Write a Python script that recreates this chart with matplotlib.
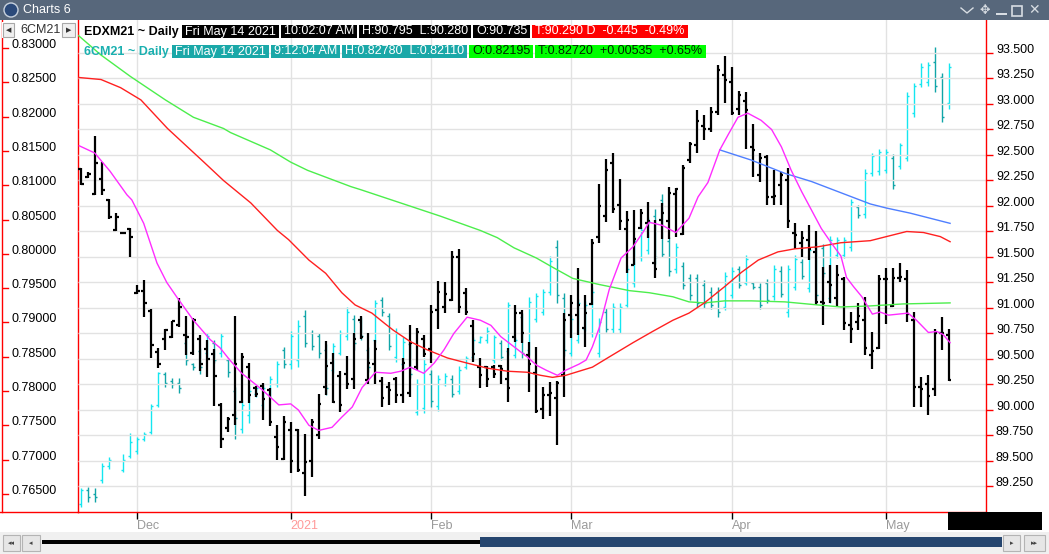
import numpy as np
import matplotlib
matplotlib.use("Agg")
import matplotlib.pyplot as plt
from matplotlib.patches import Rectangle, Circle
from matplotlib.lines import Line2D
from matplotlib.transforms import blended_transform_factory

plt.rcParams["font.family"] = ["Liberation Sans", "DejaVu Sans"]

W, H = 1049, 554

# ---------------- data ----------------
# x axis: one slot per trading day, month boundaries
month_pos = [8, 30, 50, 70, 93, 115]
month_labels = ["Dec", "2021", "Feb", "Mar", "Apr", "May"]
month_tick_colors = ["#9a9a9a", "red", "#9a9a9a", "red", "#9a9a9a", "#9a9a9a"]
month_label_colors = ["#9a9a9a", "#ff9a9a", "#9a9a9a", "#9a9a9a", "#9a9a9a", "#9a9a9a"]

left_ticks = [0.765, 0.770, 0.775, 0.780, 0.785, 0.790, 0.795, 0.800, 0.805,
              0.810, 0.815, 0.820, 0.825, 0.830]
right_ticks = [89.25, 89.50, 89.75, 90.00, 90.25, 90.50, 90.75, 91.00, 91.25,
               91.50, 91.75, 92.00, 92.25, 92.50, 92.75, 93.00, 93.25, 93.50]

# EDXM21 daily bars (right axis)
edx_open = [92.36, 92.28, 92.12, 92.26, 92.06, 91.76, 91.74, 91.77, 91.15, 91.17,
            90.97, 90.57, 90.70, 90.72, 90.83, 90.74, 90.56, 90.70, 90.60, 90.55,
            90.05, 89.82, 89.95, 90.08, 90.42, 90.22, 90.24, 90.20, 89.74, 89.52,
            89.80, 89.80, 89.38, 89.50, 89.75, 90.23, 90.46, 90.33, 90.35, 90.30,
            90.88, 90.29, 90.45, 90.28, 90.23, 90.30, 90.15, 90.17, 90.42, 90.70,
            90.60, 90.98, 91.01, 91.08, 91.50, 91.15, 90.82, 90.42, 90.42, 90.42,
            90.43, 90.30, 90.72, 90.95, 90.54, 90.36, 90.01, 90.15, 90.12, 90.34,
            90.93, 90.93, 90.80, 91.04, 91.70, 91.90, 92.42, 92.01, 91.77, 91.42,
            91.78, 91.83, 91.44, 91.86, 91.85, 92.12, 91.73, 92.45, 92.60, 92.78,
            92.75, 92.92, 93.28, 93.22, 92.95, 93.03, 92.58, 92.30, 92.48, 92.09,
            92.21, 92.25, 91.74, 91.64, 91.67, 91.55, 91.06, 91.25, 91.10, 91.28,
            90.83, 90.86, 90.88, 90.54, 90.61, 91.28, 91.02, 91.29, 91.28, 90.88,
            90.23, 90.25, 90.21, 90.75, 90.735]
edx_high = [92.37, 92.33, 92.69, 92.43, 92.07, 91.93, 91.745, 91.78, 91.23, 91.27,
            90.99, 90.61, 90.79, 90.87, 91.10, 90.92, 90.90, 90.74, 90.69, 90.60,
            90.07, 89.93, 90.92, 90.56, 90.46, 90.24, 90.26, 90.22, 89.85, 89.94,
            89.88, 89.81, 89.76, 89.91, 90.16, 90.68, 90.56, 90.38, 90.53, 90.75,
            90.92, 90.75, 90.69, 90.32, 90.27, 90.32, 90.51, 90.83, 90.80, 90.74,
            91.03, 91.26, 91.25, 91.56, 91.58, 91.20, 90.88, 90.51, 90.43, 90.44,
            90.44, 90.61, 91.03, 90.98, 90.67, 90.62, 90.23, 90.27, 90.28, 90.95,
            91.13, 91.39, 91.13, 91.68, 92.22, 92.46, 92.52, 92.26, 91.95, 91.96,
            91.97, 92.04, 91.86, 92.03, 92.19, 92.18, 92.40, 92.63, 92.94, 92.89,
            92.97, 93.38, 93.47, 93.36, 93.13, 93.12, 92.80, 92.52, 92.50, 92.35,
            92.33, 92.37, 91.83, 91.75, 91.81, 91.75, 91.40, 91.42, 91.42, 91.30,
            90.96, 91.05, 91.11, 90.76, 91.32, 91.39, 91.39, 91.44, 91.37, 90.96,
            90.32, 90.34, 90.79, 90.91, 90.795]
edx_low = [92.21, 92.27, 92.11, 92.11, 91.87, 91.75, 91.735, 91.50, 91.14, 90.91,
           90.51, 90.41, 90.59, 90.71, 90.81, 90.54, 90.54, 90.38, 90.32, 90.04,
           89.63, 89.78, 89.85, 90.07, 90.07, 90.13, 89.90, 89.84, 89.51, 89.51,
           89.38, 89.39, 89.16, 89.34, 89.72, 90.15, 90.07, 89.98, 90.21, 90.21,
           90.70, 90.25, 90.25, 90.03, 90.05, 90.07, 90.07, 90.13, 90.39, 90.52,
           90.46, 90.79, 90.95, 91.07, 90.95, 90.93, 90.47, 90.22, 90.23, 90.31,
           90.25, 90.08, 90.67, 90.66, 90.18, 89.97, 89.91, 89.94, 89.66, 90.13,
           90.71, 90.74, 90.62, 91.03, 91.64, 91.84, 91.93, 91.76, 91.34, 91.42,
           91.77, 91.69, 91.29, 91.68, 91.68, 91.70, 91.72, 92.42, 92.52, 92.65,
           92.73, 92.89, 93.01, 92.89, 92.89, 92.56, 92.28, 92.24, 92.01, 92.01,
           92.01, 91.78, 91.58, 91.50, 91.47, 91.03, 90.83, 91.05, 91.01, 90.78,
           90.66, 90.78, 90.54, 90.40, 90.60, 90.84, 91.01, 91.25, 90.86, 90.03,
           90.03, 89.95, 90.14, 90.59, 90.28]
edx_close = [92.22, 92.31, 92.42, 92.16, 91.89, 91.89, 91.74, 91.70, 91.17, 91.05,
             90.64, 90.45, 90.78, 90.87, 91.01, 90.72, 90.88, 90.45, 90.50, 90.33,
             89.72, 89.91, 90.45, 90.52, 90.15, 90.16, 90.11, 89.88, 89.64, 89.88,
             89.50, 89.41, 89.49, 89.88, 90.06, 90.43, 90.08, 90.05, 90.25, 90.70,
             90.72, 90.46, 90.60, 90.12, 90.20, 90.15, 90.46, 90.66, 90.76, 90.55,
             90.96, 91.16, 91.14, 91.50, 91.01, 90.96, 90.55, 90.34, 90.30, 90.35,
             90.40, 90.22, 90.95, 90.75, 90.45, 89.99, 90.15, 90.17, 90.26, 90.88,
             91.05, 91.03, 90.95, 91.64, 92.00, 92.35, 91.97, 91.85, 91.86, 91.68,
             91.93, 91.85, 91.38, 91.93, 92.13, 92.17, 92.37, 92.61, 92.83, 92.75,
             92.92, 93.33, 93.24, 92.91, 93.09, 92.94, 92.55, 92.47, 92.09, 92.10,
             92.30, 91.85, 91.72, 91.69, 91.58, 91.06, 91.05, 91.23, 91.32, 90.85,
             90.79, 90.92, 90.61, 90.58, 91.28, 91.28, 91.29, 91.30, 90.94, 90.23,
             90.21, 90.14, 90.75, 90.75, 90.29]

# 6CM21 daily bars (left axis), no bar on Thanksgiving
nan = float("nan")
cad_open = [.7636, .7655, .7650, .7670, .7690, nan, .7685, .7705, .7712, .7730,
            .7740, .7780, .7825, .7815, .7812, .7870, .7840, .7858, .7855, .7870,
            .7855, .7845, .7800, .7745, .7765, .7795, .7780, .7795, .7810, .7860,
            .7840, .7845, .7910, .7885, .7880, .7860, .7830, .7855, .7880, .7905,
            .7900, .7860, .7875, .7932, .7910, .7850, .7840, .7868, .7770, .7775,
            .7825, .7778, .7810, .7818, .7800, .7835, .7850, .7872, .7874, .7845,
            .7870, .7858, .7852, .7908, .7860, .7905, .7915, .7945, .8010, .7935,
            .7855, .7875, .7890, .7885, .7855, .7915, .7890, .7890, .7925, .7958,
            .7995, .8005, .8055, .8078, .8018, .7978, .7982, .7965, .7965, .7955,
            .7945, .7945, .7922, .7940, .7978, .7958, .7957, .7952, .7958, .7938,
            .7975, .7915, .7952, .7988, .7950, .8010, .8008, .7935, .7998, .7998,
            .8010, .8068, .8058, .8118, .8120, .8122, .8140, .8128, .8140, .8205,
            .8248, .8250, .8280, .8258, .82195]
cad_high = [.7659, .7660, .7659, .7695, .7704, nan, .7708, .7739, .7733, .7740,
            .7781, .7828, .7828, .7819, .7819, .7882, .7841, .7863, .7885, .7874,
            .7885, .7848, .7806, .7787, .7807, .7809, .7810, .7822, .7844, .7864,
            .7887, .7903, .7918, .7889, .7885, .7868, .7870, .7889, .7922, .7911,
            .7908, .7864, .7933, .7937, .7914, .7892, .7879, .7874, .7817, .7848,
            .7831, .7823, .7826, .7823, .7836, .7851, .7879, .7880, .7893, .7882,
            .7875, .7930, .7879, .7914, .7937, .7943, .7949, .7997, .8020, .7943,
            .7911, .7934, .7931, .7952, .7906, .7921, .7928, .7928, .7984, .8024,
            .8039, .8054, .8065, .8087, .8024, .8016, .7988, .7971, .7971, .7962,
            .7952, .7952, .7973, .7981, .7982, .7998, .7959, .7957, .7963, .7984,
            .7982, .7984, .7998, .7992, .8010, .8017, .8014, .8026, .8024, .8024,
            .8080, .8071, .8124, .8147, .8153, .8153, .8145, .8162, .8236, .8249,
            .8278, .8280, .8301, .8264, .8278]
cad_low = [.7631, .7638, .7638, .7666, .7686, nan, .7682, .7702, .7708, .7727,
           .7737, .7777, .7806, .7804, .7797, .7838, .7831, .7825, .7850, .7841,
           .7850, .7820, .7730, .7739, .7753, .7791, .7774, .7791, .7806, .7834,
           .7832, .7835, .7864, .7860, .7848, .7794, .7826, .7852, .7874, .7860,
           .7874, .7828, .7871, .7909, .7860, .7842, .7834, .7819, .7765, .7768,
           .7777, .7771, .7807, .7791, .7796, .7832, .7845, .7870, .7870, .7841,
           .7845, .7853, .7848, .7848, .7853, .7901, .7911, .7940, .7928, .7851,
           .7851, .7870, .7887, .7879, .7850, .7886, .7885, .7885, .7922, .7952,
           .7990, .8000, .7985, .7995, .7968, .7972, .7949, .7933, .7922, .7921,
           .7920, .7908, .7918, .7936, .7950, .7954, .7949, .7920, .7928, .7933,
           .7937, .7908, .7947, .7963, .7944, .7933, .7966, .7928, .7994, .7994,
           .8004, .8052, .8052, .8113, .8115, .8118, .8094, .8124, .8135, .8199,
           .8243, .8245, .8236, .8192, .8211]
cad_close = [.7655, .7645, .7645, .7690, .7700, nan, .7700, .7725, .7730, .7738,
             .7778, .7826, .7812, .7810, .7805, .7845, .7835, .7835, .7880, .7845,
             .7880, .7828, .7760, .7780, .7800, .7805, .7805, .7818, .7840, .7840,
             .7880, .7895, .7870, .7865, .7855, .7805, .7865, .7885, .7915, .7870,
             .7880, .7835, .7928, .7915, .7865, .7885, .7872, .7825, .7810, .7840,
             .7785, .7818, .7822, .7795, .7830, .7848, .7875, .7878, .7888, .7878,
             .7850, .7925, .7875, .7855, .7930, .7938, .7945, .7990, .7940, .7860,
             .7905, .7928, .7925, .7945, .7900, .7890, .7922, .7922, .7978, .8018,
             .8035, .8048, .7995, .8000, .7975, .8010, .7955, .7940, .7928, .7928,
             .7925, .7915, .7968, .7975, .7955, .7992, .7951, .7925, .7932, .7978,
             .7942, .7978, .7992, .7968, .8005, .7940, .7972, .8020, .8020, .8020,
             .8075, .8056, .8118, .8142, .8148, .8148, .8100, .8158, .8230, .8244,
             .8272, .8275, .8245, .8200, .8272]

# moving averages of EDXM21
ma_mag_x = [-0.2, 2.0, 4.2, 6.6, 7.3, 9.0, 10.9, 12.3, 13.7, 16.1, 18.5, 19.9, 21.3, 23.0,
            25.9, 28.3, 30.0, 31.1, 32.6, 34.0, 35.9, 37.3, 38.8, 40.2, 42.1, 44.3, 45.7,
            47.1, 49.0, 50.5, 51.9, 53.3, 55.2, 57.1, 58.6, 60.0, 61.9, 63.8, 65.1, 66.5,
            68.1, 69.3, 71.2, 72.2, 73.1, 74.1, 75.5, 77.2, 78.9, 80.3, 81.2, 83.1, 85.0,
            86.9, 88.2, 89.6, 91.3, 92.5, 93.9, 95.3, 97.2, 98.7, 100.1, 101.5, 103.0,
            104.4, 105.8, 107.2, 108.6, 109.4, 110.4, 111.6, 113.1, 114.2, 115.4, 118.2,
            119.4, 121.1, 122.3, 123.2, 124.2]
ma_mag_y = [92.59, 92.52, 92.34, 92.11, 92.06, 91.83, 91.44, 91.25, 91.11, 90.88, 90.69,
            90.61, 90.49, 90.36, 90.20, 90.05, 90.06, 90.00, 89.85, 89.80, 89.83, 89.93,
            90.03, 90.22, 90.37, 90.36, 90.38, 90.42, 90.36, 90.46, 90.59, 90.75, 90.91,
            90.88, 90.83, 90.72, 90.62, 90.52, 90.44, 90.39, 90.34, 90.39, 90.45, 90.49,
            90.62, 90.81, 91.18, 91.49, 91.60, 91.74, 91.84, 91.81, 91.74, 91.88, 92.09,
            92.23, 92.55, 92.70, 92.87, 92.91, 92.84, 92.75, 92.58, 92.35, 92.14, 91.96,
            91.78, 91.64, 91.51, 91.30, 91.21, 91.11, 90.94, 90.96, 90.93, 90.95, 90.88,
            90.76, 90.77, 90.74, 90.66]
ma_red_x = [-0.3, 2.9, 5.7, 8.6, 12.4, 17.6, 20.4, 24.3, 28.1, 29.7, 32.6, 35.0, 37.3,
            39.2, 41.6, 43.4, 44.7, 47.1, 49.5, 52.4, 55.2, 58.1, 61.0, 63.8, 65.7, 67.4,
            69.3, 73.1, 75.5, 78.9, 81.7, 84.6, 86.9, 89.1, 92.0, 94.4, 96.8, 99.6, 102.0,
            105.3, 108.6, 112.8, 115.1, 118.0, 120.4, 122.8, 124.2]
ma_red_y = [93.26, 93.24, 93.16, 93.04, 92.76, 92.43, 92.25, 92.03, 91.76, 91.67, 91.47,
            91.34, 91.15, 91.03, 90.95, 90.85, 90.78, 90.67, 90.59, 90.51, 90.46, 90.41,
            90.38, 90.37, 90.34, 90.32, 90.34, 90.42, 90.52, 90.66, 90.77, 90.88, 90.95,
            91.05, 91.21, 91.35, 91.47, 91.55, 91.58, 91.60, 91.64, 91.66, 91.70, 91.75,
            91.74, 91.70, 91.65]
ma_green_x = [-0.3, 2.9, 7.1, 12.1, 16.1, 20.4, 21.4, 27.1, 30.0, 32.4, 38.6, 40.0, 45.7,
              51.4, 57.1, 59.5, 61.9, 65.1, 67.4, 70.3, 74.1, 78.4, 81.2, 84.6, 86.9, 89.1,
              92.0, 95.8, 100.6, 105.3, 108.6, 112.7, 117.5, 124.2]
ma_green_y = [93.67, 93.48, 93.27, 93.04, 92.87, 92.76, 92.72, 92.55, 92.43, 92.35, 92.19,
              92.16, 92.03, 91.90, 91.76, 91.69, 91.59, 91.49, 91.40, 91.29, 91.23, 91.17,
              91.15, 91.11, 91.06, 91.05, 91.07, 91.07, 91.06, 91.03, 91.01, 91.02, 91.04,
              91.05]
ma_blue_x = [91.3, 95.8, 100.6, 104.4, 108.6, 112.8, 115.1, 118.5, 124.2]
ma_blue_y = [92.55, 92.45, 92.32, 92.24, 92.13, 92.02, 91.98, 91.93, 91.83]

header_edx = [("EDXM21 ~ Daily", "black", None, True),
              ("Fri May 14 2021", "white", "black", False),
              ("10:02:07 AM", "white", "black", False),
              ("H:90.795  L:90.280", "white", "black", False),
              ("O:90.735", "white", "black", False),
              ("T:90.290 D  -0.445  -0.49%", "white", "#ff0000", False)]
header_cad = [("6CM21 ~ Daily", "#1ab0b0", None, True),
              ("Fri May 14 2021", "white", "#1aa8a8", False),
              ("9:12:04 AM", "white", "#1aa8a8", False),
              ("H:0.82780  L:0.82110", "white", "#1aa8a8", False),
              ("O:0.82195", "#002200", "#00ff00", False),
              ("T:0.82720  +0.00535  +0.65%", "#002200", "#00ff00", False)]


def fx(x):
    return x / W


def fy(y):
    return 1 - y / H


fig = plt.figure(figsize=(W / 100, H / 100), dpi=100)
fig.patch.set_facecolor("white")


def box(x0, y0, x1, y1, fc, ec="none", lw=0, z=5):
    fig.add_artist(Rectangle((fx(x0), fy(y1)), (x1 - x0) / W, (y1 - y0) / H,
                             transform=fig.transFigure, fc=fc, ec=ec, lw=lw, zorder=z))


def line(xs, ys, color, lw=1.0, z=5):
    fig.add_artist(Line2D([fx(v) for v in xs], [fy(v) for v in ys], color=color,
                          lw=lw, transform=fig.transFigure, zorder=z))


def draw_ohlc(axis, o, h, l, c, up, down, lw, tick, z):
    o, h, l, c = (np.array(v, float) for v in (o, h, l, c))
    x = np.arange(len(o), dtype=float)
    ok = ~np.isnan(o)
    x, o, h, l, c = x[ok], o[ok], h[ok], l[ok], c[ok]
    cols = np.where(c >= o, up, down)
    axis.vlines(x, l, h, colors=cols, lw=lw, zorder=z)
    axis.hlines(o, x - tick, x, colors=cols, lw=lw, zorder=z)
    axis.hlines(c, x, x + tick, colors=cols, lw=lw, zorder=z)


# ---------------- main chart ----------------
ax = fig.add_axes([fx(78), fy(512), (986 - 78) / W, (512 - 20) / H])
ax.set_xlim(-0.386, 129.33)
ax.set_ylim(0.762362, 0.834082)
ax2 = ax.twinx()
ax2.set_ylim(89.0, 93.8235)

for s in ["top", "right"]:
    ax.spines[s].set_visible(False)
for s in ["top", "left", "bottom"]:
    ax2.spines[s].set_visible(False)
ax.spines["left"].set_color("red")
ax.spines["bottom"].set_color("red")
ax2.spines["right"].set_color("red")
for sp in [ax.spines["left"], ax.spines["bottom"], ax2.spines["right"]]:
    sp.set_linewidth(1.0)

ax.tick_params(axis="y", left=False, labelleft=False)
ax2.set_yticks(right_ticks)
ax2.tick_params(axis="y", right=True, direction="out", length=5, width=1,
                color="red", labelright=False)

ax.set_xticks(month_pos)
ax.set_xticklabels(month_labels, fontsize=9)
ax.tick_params(axis="x", length=5, width=1, pad=1)
for t, tc, lc in zip(ax.xaxis.get_major_ticks(), month_tick_colors, month_label_colors):
    t.tick1line.set_color(tc)
    t.label1.set_color(lc)
    t.label1.set_horizontalalignment("left")

# grid
for p in month_pos:
    ax.axvline(p, color="#e2e2e2", lw=1.0, zorder=0)
ax2.hlines(right_ticks, -0.386, 129.33, colors="#e2e2e2", lw=1.0, zorder=0)

# bars
draw_ohlc(ax, cad_open, cad_high, cad_low, cad_close, "#14e6f0", "#11a5a8", 1.0, 0.3, 2)
draw_ohlc(ax2, edx_open, edx_high, edx_low, edx_close, "black", "black", 1.6, 0.4, 2)

# moving averages
ax2.plot(ma_green_x, ma_green_y, color="#4cee4c", lw=1.0, zorder=3)
ax2.plot(ma_red_x, ma_red_y, color="#ff2020", lw=1.0, zorder=3)
ax2.plot(ma_blue_x, ma_blue_y, color="#4f7fff", lw=1.0, zorder=3)
ax2.plot(ma_mag_x, ma_mag_y, color="#ff2cff", lw=1.0, zorder=3)

# left price scale (drawn at the far left panel)
tl = blended_transform_factory(fig.transFigure, ax.transData)
for v in left_ticks:
    ax.add_line(Line2D([fx(3), fx(8)], [v, v], color="red", lw=1.0,
                       transform=tl, clip_on=False))
    ax.text(fx(12), v, f"{v:.5f}", transform=tl, ha="left", va="baseline",
            fontsize=9, color="black", clip_on=False)

# right price scale labels
tr = blended_transform_factory(fig.transFigure, ax2.transData)
for v in right_ticks:
    ax2.text(fx(996), v, f"{v:.3f}", transform=tr, ha="left", va="baseline",
             fontsize=9, color="black", clip_on=False)

# ---------------- window chrome ----------------
line([2, 2], [20, 512], "red")
line([0, 78], [512, 512], "red")
box(948, 512, 1042, 530, "black")

# title bar
box(0, 0, W, 20, "#57677b")
fig.add_artist(Circle((11 / 100, (H - 10) / 100), 0.07, transform=fig.dpi_scale_trans,
                      fc="#2b4a7a", ec="#c8d2de", lw=1, zorder=6))
fig.text(fx(23), fy(10), "Charts 6", color="white", fontsize=9, va="center", zorder=6)
icon = "#d8dde3"
line([961, 967, 973], [8, 13, 8], icon, lw=1.0, z=6)
fig.text(fx(985), fy(10), "\u2725", color=icon, fontsize=9, ha="center", va="center",
         family="DejaVu Sans", zorder=6)
box(996, 13, 1007, 15, icon, z=6)
box(1012, 6, 1022, 16, "none", ec=icon, lw=1.2, z=6)
fig.text(fx(1034), fy(10), "\u2715", color=icon, fontsize=10, ha="center", va="center",
         family="DejaVu Sans", zorder=6)

# symbol selector
box(2, 22, 77, 38, "white", z=6)
box(3, 23, 14, 37, "#f0f0f0", ec="#a8a8a8", lw=0.8, z=6)
box(62, 23, 75, 37, "#f0f0f0", ec="#a8a8a8", lw=0.8, z=6)
fig.text(fx(8.5), fy(30), "\u25c0", fontsize=5, ha="center", va="center",
         family="DejaVu Sans", color="#333333", zorder=7)
fig.text(fx(68.5), fy(30), "\u25b6", fontsize=5, ha="center", va="center",
         family="DejaVu Sans", color="#333333", zorder=7)
fig.text(fx(20), fy(30), "6CM21", fontsize=9, va="center", color="#333333", zorder=7)

# header chips
renderer = fig.canvas.get_renderer()


def chip_row(x, y, items):
    for txt, fg, bg, bold in items:
        pad = 0 if bg is None else 3
        t = fig.text(fx(x + pad), fy(y), txt, color=fg, fontsize=9,
                     fontweight="bold" if bold else "normal", va="center", zorder=8)
        w = t.get_window_extent(renderer).width
        if bg is not None:
            box(x, y - 6.5, x + w + 2 * pad, y + 6.5, bg, z=7)
            x += w + 2 * pad + 2
        else:
            x += w + 3


chip_row(84, 31.5, header_edx)
chip_row(84, 51.5, header_cad)

# scroll bar
box(0, 532, W, H, "#f0f0f0")
for x0, x1, g in [(3, 20, "\u25c2\u25c2"), (22, 40, "\u25c2"),
                  (1003, 1020, "\u25b8"), (1024, 1045, "\u25b8\u25b8")]:
    box(x0, 535, x1, 551, "#e6e6e6", ec="#b4b4b4", lw=0.8, z=6)
    fig.text(fx((x0 + x1) / 2), fy(543), g, fontsize=5, ha="center", va="center",
             family="DejaVu Sans", color="#444444", zorder=7)
box(42, 540, 480, 544, "black")
box(480, 537, 1002, 547, "#26466f")

fig.savefig("out.png", dpi=100)
